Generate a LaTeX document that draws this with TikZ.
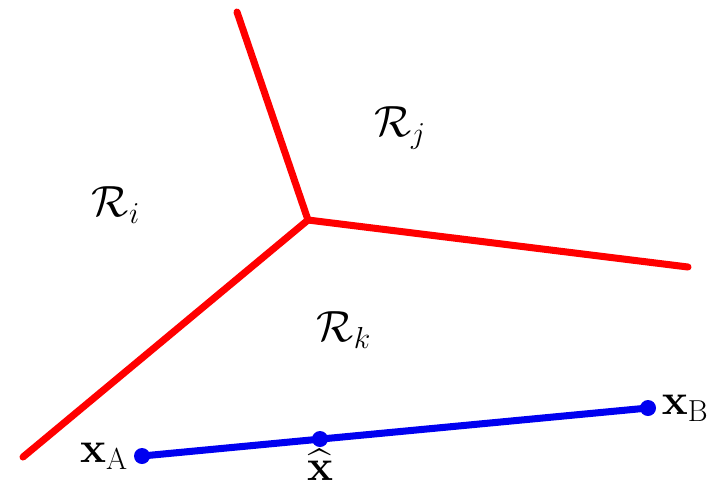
\documentclass[tikz,border=0pt]{standalone}
\usepackage{amsmath,amssymb}
\usepackage{xcolor}
\definecolor{cRed}{HTML}{FF0000}
\definecolor{cBlue}{HTML}{0000F0}
\usetikzlibrary{positioning}
\tikzset{
  edge-red/.style={draw=cRed,line width=4pt,line cap=round},
  edge-blue/.style={draw=cBlue,line width=4pt,line cap=round},
  dot-blue/.style={circle,fill=cBlue,inner sep=0pt,minimum size=0.32cm},
  lbl/.style={font=\fontsize{23}{27}\selectfont,inner sep=1pt},
}
\begin{document}
\begin{tikzpicture}[x=0.02cm,y=-0.02cm]
  \useasboundingbox (0,0) rectangle (716,485);
  % regions
  \coordinate (c) at (308,220);
  \coordinate (top) at (237,12);
  \coordinate (rgt) at (688,267);
  \coordinate (lft) at (23,457);
  \draw[edge-red] (top) -- (c);
  \draw[edge-red] (rgt) -- (c);
  \draw[edge-red] (lft) -- (c);
  \node[lbl] (Ri) at (116,205) {$\mathcal{R}_i$};
  \node[lbl] (Rj) at (400,128) {$\mathcal{R}_j$};
  \node[lbl] (Rk) at (344,330) {$\mathcal{R}_k$};
  % segment
  \node[dot-blue] (xa) at (142,456) {};
  \node[dot-blue] (xh) at (320,439) {};
  \node[dot-blue] (xb) at (648,408) {};
  \draw[edge-blue] (xa.center) -- (xb.center);
  \node[lbl,left=2pt of xa] {$\mathbf{x}_{\mathrm{A}}$};
  \node[lbl,right=2pt of xb] {$\mathbf{x}_{\mathrm{B}}$};
  \node[lbl,below=0pt of xh] {$\widehat{\mathbf{x}}$};
\end{tikzpicture}
\end{document}
